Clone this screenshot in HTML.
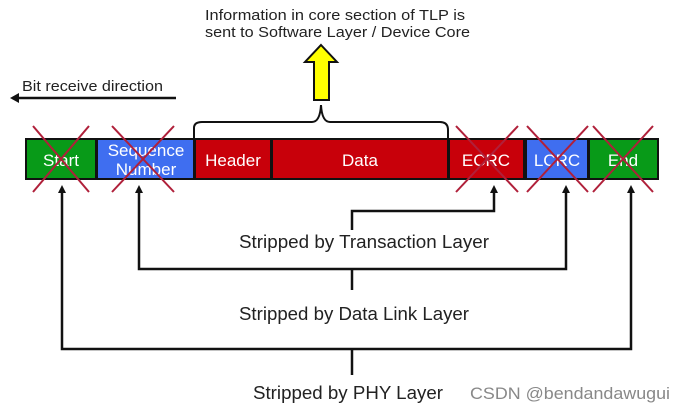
<!DOCTYPE html>
<html><head><style>
body{margin:0;background:#fff;}
svg text{font-family:"Liberation Sans",sans-serif;}
</style></head><body>
<svg width="676" height="414" viewBox="0 0 676 414" xmlns="http://www.w3.org/2000/svg">
<text x="205" y="20" font-size="15" fill="#222" textLength="260" lengthAdjust="spacingAndGlyphs">Information in core section of TLP is</text>
<text x="205" y="37" font-size="15" fill="#222" textLength="265" lengthAdjust="spacingAndGlyphs">sent to Software Layer / Device Core</text>
<polygon points="321,45 337,62 329,62 329,100 314,100 314,62 305,62" fill="#ffff00" stroke="#111" stroke-width="2"/>
<text x="22" y="91" font-size="15" fill="#222" textLength="141" lengthAdjust="spacingAndGlyphs">Bit receive direction</text>
<line x1="16" y1="98" x2="176" y2="98" stroke="#111" stroke-width="2.5"/>
<polygon points="10,98 19,93 19,103" fill="#111"/>
<path d="M194,138 L194,128 Q194,122 202,122 L312,122 Q320,122 321,105 Q322,122 330,122 L440,122 Q448,122 448,130 L448,138" fill="none" stroke="#111" stroke-width="2"/>
<rect x="25" y="138" width="634" height="42" fill="#111"/>
<rect x="27" y="140" width="68" height="38" fill="#089a18"/>
<rect x="98" y="140" width="95" height="38" fill="#3f6ef0"/>
<rect x="196" y="140" width="74" height="38" fill="#c8000a"/>
<rect x="273" y="140" width="174" height="38" fill="#c8000a"/>
<rect x="450" y="140" width="73" height="38" fill="#c8000a"/>
<rect x="527" y="140" width="60" height="38" fill="#3f6ef0"/>
<rect x="590" y="140" width="67" height="38" fill="#089a18"/>
<g fill="#fff" font-size="17" text-anchor="middle">
<text x="61" y="166">Start</text>
<text x="146" y="156">Sequence</text>
<text x="146" y="175">Number</text>
<text x="233" y="166">Header</text>
<text x="360" y="166">Data</text>
<text x="486" y="166">ECRC</text>
<text x="557" y="166">LCRC</text>
<text x="623" y="166">End</text>
</g>
<g stroke="#b0203a" stroke-width="2">
<line x1="33" y1="126" x2="89" y2="192"/><line x1="89" y1="126" x2="33" y2="192"/>
<line x1="112" y1="126" x2="174" y2="192"/><line x1="174" y1="126" x2="112" y2="192"/>
<line x1="456" y1="126" x2="518" y2="192"/><line x1="518" y1="126" x2="456" y2="192"/>
<line x1="527" y1="126" x2="588" y2="192"/><line x1="588" y1="126" x2="527" y2="192"/>
<line x1="593" y1="126" x2="653" y2="192"/><line x1="653" y1="126" x2="593" y2="192"/>
</g>
<g stroke="#111" stroke-width="2.5" fill="none">
<polyline points="494,190 494,211 352,211 352,230"/>
<polyline points="139,190 139,269 566,269 566,190"/>
<line x1="352" y1="269" x2="352" y2="290"/>
<polyline points="62,190 62,349 631,349 631,190"/>
<line x1="352" y1="349" x2="352" y2="375"/>
</g>
<g fill="#111">
<polygon points="494,185 490,193 498,193"/>
<polygon points="139,185 135,193 143,193"/>
<polygon points="566,185 562,193 570,193"/>
<polygon points="62,185 58,193 66,193"/>
<polygon points="631,185 627,193 635,193"/>
</g>
<g font-size="18" fill="#222">
<text x="239" y="248" textLength="250" lengthAdjust="spacingAndGlyphs">Stripped by Transaction Layer</text>
<text x="239" y="320" textLength="230" lengthAdjust="spacingAndGlyphs">Stripped by Data Link Layer</text>
<text x="253" y="399" textLength="190" lengthAdjust="spacingAndGlyphs">Stripped by PHY Layer</text>
</g>
<text x="470" y="399" font-size="17" fill="#888" textLength="200" lengthAdjust="spacingAndGlyphs">CSDN @bendandawugui</text>
</svg>
</body></html>
